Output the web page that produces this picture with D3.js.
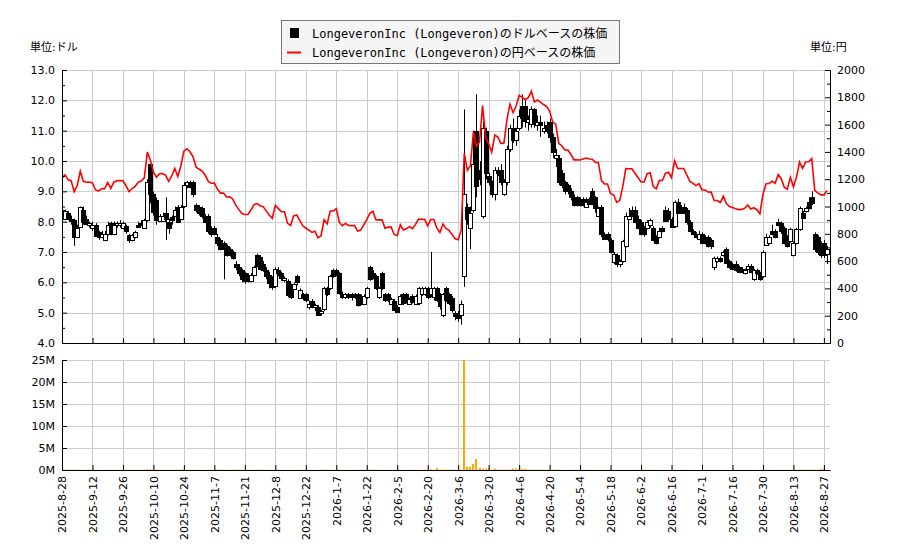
<!doctype html>
<meta charset="utf-8">
<title>Longeveron</title>
<script src="https://cdn.jsdelivr.net/npm/d3@7/dist/d3.min.js"></script>
<style>
body { margin: 0; background: #fff; }
svg text { font-family: "DejaVu Sans", "Noto Sans CJK JP", sans-serif; font-size: 11px; fill: #000; }
.legend text { font-family: "DejaVu Sans Mono", "Noto Sans CJK JP", monospace; font-size: 12px; }
.grid line { stroke: #cccccc; stroke-width: 1; }
</style>
<body>
<svg id="chart" width="900" height="550"></svg>
<script>

// x axis labels, one every 10 trading days
var tickLabels = ['2025-8-28','2025-9-12','2025-9-26','2025-10-10','2025-10-24','2025-11-7',
  '2025-11-21','2025-12-8','2025-12-22','2026-1-7','2026-1-22','2026-2-5','2026-2-20',
  '2026-3-6','2026-3-20','2026-4-6','2026-4-20','2026-5-4','2026-5-18','2026-6-2',
  '2026-6-16','2026-7-1','2026-7-16','2026-7-30','2026-8-13','2026-8-27'];

// daily prices in USD
var opens = [
  8.4,8.1,8.3,8.1,8.05,7.5,7.85,8.4,8.1,7.9,
  7.8,7.9,7.65,7.5,7.4,7.6,7.95,7.6,7.9,7.9,
  7.8,7.85,7.55,7.4,7.5,7.9,7.95,7.8,8.05,9.9,
  8.9,8.7,8.05,8.05,8.3,8.0,8.15,8.2,8.5,8.1,
  8.5,9.2,9.3,9.3,8.55,8.5,8.45,8.2,8.2,7.8,
  7.8,7.5,7.4,7.3,7.2,7.1,7.0,6.6,6.5,6.4,
  6.3,6.2,6.05,6.25,6.9,6.85,6.6,6.4,6.25,6.1,
  5.9,6.4,6.3,6.1,6.05,5.9,5.8,6.2,5.5,5.6,
  5.6,5.2,5.4,5.2,5.2,5.0,5.1,5.8,5.8,6.4,
  6.4,6.3,5.6,5.5,5.6,5.6,5.6,5.6,5.55,5.3,
  5.5,6.5,6.3,6.2,5.5,6.3,5.6,5.6,5.3,5.4,
  5.2,5.3,5.6,5.6,5.3,5.55,5.3,5.3,5.6,5.6,
  5.8,5.6,5.5,5.8,5.6,4.9,5.8,5.6,5.5,5.0,
  5.0,4.95,6.2,8.5,7.8,8.4,11.0,9.7,8.2,11.0,
  9.5,9.3,8.9,9.7,9.7,8.9,9.3,10.4,11.1,10.7,
  11.1,11.8,11.8,11.3,11.2,11.7,11.2,11.3,11.0,11.2,
  11.3,10.8,10.1,10.1,9.6,9.3,9.2,9.0,8.8,8.8,
  8.75,8.75,8.5,8.75,9.0,8.8,8.2,8.5,7.6,7.6,
  7.4,6.7,6.9,6.6,6.7,7.2,8.1,8.4,8.4,8.1,
  8.0,7.8,7.8,7.9,7.8,7.5,7.5,7.8,8.4,8.35,
  8.1,7.85,8.65,8.5,8.5,8.4,8.0,7.7,7.6,7.45,
  7.6,7.5,7.5,7.4,6.5,6.7,6.8,6.9,7.1,6.7,
  6.6,6.6,6.5,6.45,6.3,6.45,6.55,6.1,6.4,6.3,
  6.2,7.25,7.3,7.7,7.7,8.0,7.95,7.8,7.5,7.35,
  6.9,7.3,7.75,8.3,8.35,8.65,8.8,7.6,7.5,7.3,
  7.3,6.95];
var highs = [
  8.7,8.4,8.35,8.2,8.1,7.9,8.5,8.5,8.2,8.0,
  8.0,7.95,7.7,7.7,7.7,8.0,8.0,8.0,8.0,8.05,
  8.0,7.9,7.6,7.6,7.7,8.0,8.05,8.1,9.4,9.9,
  9.0,8.8,8.25,8.3,8.8,8.1,8.2,8.5,8.55,8.55,
  9.3,9.35,9.35,9.35,8.6,8.55,8.5,8.25,8.25,7.85,
  7.85,7.6,7.45,7.35,7.25,7.15,7.05,6.7,6.6,6.45,
  6.35,6.3,6.3,6.55,6.95,6.9,6.7,6.5,6.35,6.2,
  6.5,6.5,6.35,6.2,6.1,5.95,6.0,6.25,5.8,5.65,
  5.65,5.4,5.45,5.3,5.25,5.1,5.85,5.85,6.25,6.45,
  6.45,6.35,5.7,5.65,5.65,5.65,5.65,5.65,5.6,5.6,
  5.85,6.55,6.4,6.25,5.85,6.35,5.65,5.65,5.5,5.45,
  5.25,5.6,5.65,5.65,5.5,5.6,5.6,5.85,5.85,5.85,
  5.85,7.0,5.85,5.85,5.65,5.65,5.85,5.65,5.55,5.05,
  5.05,5.4,11.7,8.6,8.5,11.0,12.2,10.0,11.3,11.1,
  9.6,9.35,9.8,9.8,9.9,9.4,10.5,11.2,11.4,11.1,
  11.7,12.2,12.0,11.5,11.8,11.75,11.5,11.5,11.3,11.3,
  11.4,10.9,10.4,10.2,9.7,9.35,9.25,9.1,8.9,8.85,
  8.8,8.8,8.8,8.8,9.1,8.85,8.5,8.55,7.65,7.65,
  7.45,7.0,6.95,6.75,7.4,8.3,8.45,8.5,8.5,8.2,
  8.05,7.85,8.05,8.1,7.85,7.55,7.8,7.85,8.5,8.45,
  8.15,8.7,8.75,8.55,8.6,8.45,8.05,7.75,7.65,7.7,
  7.65,7.55,7.55,7.45,6.85,6.85,6.85,7.05,7.15,6.75,
  6.65,6.7,6.55,6.5,6.45,6.6,6.6,6.45,6.45,6.35,
  7.05,7.6,7.55,7.9,7.75,8.1,8.0,7.85,7.55,7.8,
  7.35,7.8,8.5,8.35,8.5,8.8,9.0,7.65,7.55,7.35,
  7.4,7.2];
var lows = [
  8.1,8.05,8.05,7.9,7.2,7.45,7.8,7.9,7.9,7.8,
  7.7,7.5,7.4,7.45,7.35,7.55,7.55,7.55,7.8,7.8,
  7.75,7.6,7.3,7.35,7.45,7.8,7.85,7.8,8.0,8.6,
  8.2,7.9,8.0,8.0,7.4,7.6,7.9,8.15,7.95,8.05,
  8.45,9.1,9.1,8.8,8.3,8.2,8.1,7.95,7.6,7.5,
  7.55,7.2,7.05,6.1,6.85,6.85,6.75,6.4,6.2,6.0,
  5.95,6.0,6.0,6.2,6.5,6.4,6.35,6.1,5.8,5.75,
  5.8,6.2,6.05,6.0,5.5,5.45,5.75,5.9,5.45,5.4,
  5.35,5.1,5.15,5.05,4.9,4.9,5.05,5.55,5.75,6.15,
  6.2,5.6,5.45,5.45,5.45,5.4,5.45,5.2,5.25,5.25,
  5.45,6.05,6.1,5.75,5.45,5.75,5.35,5.35,5.25,5.05,
  5.0,5.25,5.25,5.3,5.25,5.3,5.25,5.25,5.55,5.55,
  5.45,5.5,5.4,5.35,5.1,4.85,5.35,5.25,5.0,4.75,
  4.7,4.6,5.85,7.9,7.1,8.3,8.8,9.2,8.1,9.4,
  9.2,8.8,8.7,9.5,9.2,8.85,9.2,10.3,10.6,10.5,
  11.0,11.1,11.1,11.0,11.1,11.1,11.0,10.8,10.9,10.9,
  10.6,10.1,9.8,9.2,9.1,8.9,8.9,8.7,8.5,8.5,
  8.5,8.5,8.45,8.55,8.55,8.3,8.15,7.5,7.4,7.35,
  6.95,6.6,6.5,6.5,6.65,7.15,8.05,8.15,7.95,7.75,
  7.55,7.5,7.75,7.8,7.35,7.25,7.45,7.65,8.0,8.0,
  7.8,7.8,8.25,8.25,8.25,7.9,7.65,7.55,7.45,7.4,
  7.25,7.25,7.15,7.1,6.4,6.65,6.65,6.85,6.6,6.45,
  6.4,6.35,6.3,6.3,6.25,6.4,6.3,6.05,6.25,6.05,
  6.15,7.2,7.25,7.55,7.45,7.85,7.6,7.25,7.15,7.3,
  6.85,7.25,7.7,8.1,8.3,8.4,8.55,7.0,6.9,6.8,
  6.8,6.6];
var closes = [
  8.2,8.35,8.1,8.05,7.5,7.8,8.5,8.0,7.95,7.95,
  7.9,7.55,7.5,7.6,7.6,7.9,7.6,7.9,7.97,7.97,
  7.95,7.7,7.4,7.55,7.65,7.85,7.9,8.05,9.3,8.9,
  8.3,8.05,8.2,8.2,8.1,7.8,8.05,8.4,8.0,8.5,
  9.2,9.3,9.15,8.9,8.4,8.3,8.2,8.0,7.7,7.6,
  7.6,7.3,7.1,7.1,6.9,6.9,6.8,6.5,6.3,6.1,
  6.05,6.05,6.25,6.5,6.55,6.45,6.4,6.2,6.0,5.85,
  6.45,6.3,6.15,6.15,5.6,5.5,5.95,6.0,5.75,5.5,
  5.4,5.3,5.2,5.25,4.95,5.05,5.8,5.6,6.2,6.2,
  6.3,5.65,5.5,5.6,5.5,5.5,5.5,5.25,5.3,5.55,
  5.8,6.1,6.2,5.8,5.8,5.8,5.4,5.45,5.45,5.1,
  5.05,5.55,5.3,5.35,5.45,5.35,5.55,5.8,5.8,5.8,
  5.5,5.8,5.8,5.4,5.2,5.6,5.4,5.3,5.1,4.9,
  4.85,5.3,8.9,8.1,8.3,9.9,9.2,9.4,11.1,9.6,
  9.3,8.9,9.7,9.6,9.3,9.3,10.4,11.1,10.7,11.0,
  11.5,11.4,11.3,11.4,11.7,11.2,11.3,11.2,11.1,11.0,
  10.8,10.3,10.2,9.3,9.2,9.0,9.0,8.8,8.55,8.55,
  8.55,8.6,8.65,8.6,8.6,8.45,8.45,7.6,7.45,7.45,
  7.0,6.95,6.6,6.7,7.35,8.2,8.2,8.2,8.0,7.8,
  7.6,7.6,8.0,8.05,7.4,7.3,7.7,7.7,8.05,8.1,
  7.85,8.65,8.3,8.3,8.3,8.0,7.7,7.6,7.5,7.6,
  7.3,7.3,7.2,7.2,6.8,6.8,6.7,7.0,6.65,6.5,
  6.45,6.4,6.35,6.35,6.4,6.55,6.35,6.4,6.3,6.1,
  7.0,7.5,7.5,7.6,7.5,7.9,7.7,7.3,7.2,7.75,
  7.3,7.75,8.45,8.15,8.45,8.45,8.6,7.1,7.0,6.9,
  6.9,7.1];

// USD/JPY rate used for the yen line
var usdjpy = [
  147.5,147.5,147.6,147.7,147.8,147.9,148.0,148.1,148.2,148.3,
  148.4,148.5,148.6,148.7,148.8,148.9,149.0,149.1,149.2,149.3,
  149.5,149.6,149.8,149.9,150.0,150.1,150.2,150.3,150.4,150.5,
  150.8,151.0,151.2,151.4,151.6,151.8,152.0,152.2,152.4,152.6,
  152.8,153.0,153.1,153.2,153.3,153.4,153.5,153.6,153.8,154.0,
  154.2,154.4,154.6,154.8,155.0,155.1,155.2,155.3,155.4,155.5,
  155.6,155.7,155.8,155.9,156.0,156.0,156.1,156.1,156.2,156.2,
  156.3,156.3,156.4,156.4,156.5,156.5,156.4,156.3,156.2,156.1,
  156.0,155.9,155.8,155.8,155.7,155.7,155.8,155.9,156.0,156.1,
  156.2,156.3,156.4,156.5,156.5,156.4,156.3,156.2,156.1,156.0,
  155.9,155.8,155.7,155.6,155.5,155.5,155.6,155.7,155.8,155.9,
  156.0,156.1,156.2,156.3,156.4,156.5,156.5,156.4,156.3,156.2,
  156.1,156.0,155.9,155.8,155.7,155.6,155.5,155.6,155.7,155.8,
  155.9,156.0,156.1,156.2,156.3,156.4,156.5,156.6,156.7,156.8,
  156.9,157.0,157.1,157.2,157.3,157.4,157.5,157.6,157.7,157.8,
  157.8,157.8,157.7,157.7,157.6,157.6,157.5,157.5,157.4,157.4,
  157.3,157.3,157.2,157.2,157.1,157.1,157.0,157.0,156.9,156.9,
  156.8,156.8,156.7,156.7,156.6,156.6,156.5,156.5,156.4,156.4,
  156.3,156.2,156.1,156.0,155.9,155.8,155.7,155.6,155.5,155.4,
  155.3,155.2,155.1,155.0,154.9,154.8,154.7,154.6,154.5,154.4,
  154.3,154.2,154.1,154.0,154.0,153.9,153.9,153.8,153.8,153.7,
  153.7,153.6,153.6,153.5,153.5,153.5,153.6,153.6,153.7,153.7,
  153.8,153.8,153.9,154.0,154.2,154.4,154.6,154.8,155.0,155.2,
  155.4,155.6,155.8,156.0,156.1,156.2,156.3,156.4,156.5,156.6,
  156.7,156.8,156.9,157.0,157.0,157.1,157.1,157.2,157.2,157.3,
  157.3,157.4];

// daily volume, millions of shares
var volumes = [
  0.08,0.06,0.05,0.07,0.09,0.05,0.1,0.06,0.05,0.04,
  0.05,0.06,0.04,0.05,0.04,0.06,0.05,0.04,0.05,0.04,
  0.05,0.04,0.06,0.05,0.04,0.05,0.06,0.08,0.2,0.15,
  0.08,0.06,0.05,0.05,0.07,0.05,0.04,0.06,0.05,0.07,
  0.1,0.08,0.06,0.06,0.05,0.05,0.04,0.05,0.06,0.05,
  0.05,0.06,0.07,0.1,0.06,0.05,0.05,0.06,0.07,0.06,
  0.06,0.05,0.05,0.06,0.07,0.05,0.05,0.05,0.06,0.05,
  0.07,0.05,0.04,0.04,0.06,0.05,0.05,0.05,0.04,0.05,
  0.05,0.05,0.04,0.04,0.06,0.05,0.08,0.05,0.06,0.05,
  0.06,0.07,0.05,0.04,0.04,0.04,0.04,0.05,0.04,0.05,
  0.06,0.1,0.06,0.05,0.05,0.06,0.05,0.04,0.04,0.05,
  0.05,0.05,0.04,0.04,0.04,0.04,0.05,0.06,0.05,0.05,
  0.05,0.2,0.06,0.45,0.07,0.08,0.06,0.05,0.06,0.07,
  0.08,0.1,27.0,0.75,0.75,1.4,2.5,0.5,0.3,0.3,
  0.3,0.1,0.3,0.1,0.12,0.1,0.1,0.12,0.3,0.3,
  0.1,0.25,0.25,0.1,0.08,0.08,0.07,0.06,0.06,0.06,
  0.08,0.07,0.06,0.06,0.05,0.05,0.05,0.05,0.04,0.04,
  0.04,0.04,0.04,0.04,0.05,0.04,0.04,0.06,0.05,0.04,
  0.05,0.04,0.04,0.04,0.05,0.06,0.04,0.04,0.04,0.04,
  0.04,0.04,0.04,0.04,0.04,0.04,0.04,0.03,0.05,0.04,
  0.04,0.05,0.04,0.03,0.03,0.04,0.04,0.03,0.03,0.03,
  0.03,0.03,0.03,0.03,0.05,0.03,0.03,0.03,0.04,0.03,
  0.03,0.03,0.03,0.03,0.03,0.03,0.03,0.03,0.03,0.03,
  0.05,0.05,0.04,0.04,0.04,0.05,0.04,0.04,0.04,0.04,
  0.04,0.04,0.15,0.05,0.05,0.06,0.06,0.08,0.06,0.25,
  0.3,0.08];

var left = 62, right = 830
  , priceTop = 70, priceBottom = 343
  , volTop = 360, volBottom = 470
  , tickIdx = tickLabels.map(function(d, i) { return i * 10; });

var svg = d3.select('#chart');

var x = d3.scaleLinear().domain([0, 252]).range([left, right]);
var yUsd = d3.scaleLinear().domain([4, 13]).range([priceBottom, priceTop]);
var yJpy = d3.scaleLinear().domain([0, 2000]).range([priceBottom, priceTop]);
var yVol = d3.scaleLinear().domain([0, 25]).range([volBottom, volTop]);

function px(v) { return Math.round(v) + 0.5; }

/// grid lines
function vGrid(y0, y1) {
  svg.append('g').attr('class', 'grid')
    .selectAll('line').data(tickIdx).enter().append('line')
    .attr('x1', function(d) { return px(x(d)); })
    .attr('x2', function(d) { return px(x(d)); })
    .attr('y1', y0).attr('y2', y1);
}
function hGrid(vals, scale) {
  svg.append('g').attr('class', 'grid')
    .selectAll('line').data(vals).enter().append('line')
    .attr('x1', left).attr('x2', right)
    .attr('y1', function(d) { return px(scale(d)); })
    .attr('y2', function(d) { return px(scale(d)); });
}
vGrid(priceTop, priceBottom);
vGrid(volTop, volBottom);
hGrid(d3.range(4, 13.01, 1), yUsd);
hGrid(d3.range(0, 25.01, 5), yVol);

/// clip for both panels
var defs = svg.append('defs');
defs.append('clipPath').attr('id', 'clipPrice').append('rect')
  .attr('x', left).attr('y', priceTop).attr('width', right - left + 2).attr('height', priceBottom - priceTop);
defs.append('clipPath').attr('id', 'clipVol').append('rect')
  .attr('x', left).attr('y', volTop).attr('width', right - left).attr('height', volBottom - volTop);

/// volume bars
svg.append('g').attr('clip-path', 'url(#clipVol)')
  .selectAll('rect').data(volumes).enter().append('rect')
  .attr('x', function(d, i) { return Math.round(x(i)) - 1; })
  .attr('width', 2)
  .attr('y', function(d) { return yVol(d); })
  .attr('height', function(d) { return volBottom - yVol(d); })
  .style('fill', '#ffa500');

/// candles
var candles = svg.append('g').attr('clip-path', 'url(#clipPrice)')
  .selectAll('g').data(closes).enter().append('g');

candles.append('line')
  .attr('x1', function(d, i) { return px(x(i)); })
  .attr('x2', function(d, i) { return px(x(i)); })
  .attr('y1', function(d, i) { return yUsd(highs[i]); })
  .attr('y2', function(d, i) { return yUsd(lows[i]); })
  .style('stroke', '#000').style('stroke-width', 1);

candles.append('rect')
  .attr('x', function(d, i) { return Math.round(x(i)) - 1.5; })
  .attr('width', 4)
  .attr('y', function(d, i) { return Math.round(yUsd(Math.max(opens[i], d))) + 0.5; })
  .attr('height', function(d, i) { return Math.max(1, Math.round(Math.abs(yUsd(opens[i]) - yUsd(d)))); })
  .style('fill', function(d, i) { return d >= opens[i] ? '#fff' : '#000'; })
  .style('stroke', '#000').style('stroke-width', 1);

/// yen line
var yenLine = d3.line()
  .x(function(d, i) { return x(i); })
  .y(function(d, i) { return yJpy(d * usdjpy[i]); });

svg.append('path').datum(closes)
  .attr('d', yenLine)
  .style('fill', 'none')
  .style('stroke', '#ff0000')
  .style('stroke-width', 1.6);

/// axes
function styleAxis(g) {
  g.select('.domain').style('stroke', '#000');
  g.selectAll('.tick line').style('stroke', '#000');
  g.selectAll('text').style('font-family', null).style('font-size', null).attr('fill', '#000');
}

svg.append('g').attr('transform', 'translate(' + left + ',0)')
  .call(d3.axisLeft(yUsd).tickValues(d3.range(4, 13.01, 1)).tickFormat(d3.format('.1f'))
    .tickSizeInner(-5).tickSizeOuter(0).tickPadding(7))
  .call(styleAxis);
svg.append('g').attr('transform', 'translate(' + left + ',0)')
  .call(d3.axisLeft(yUsd).tickValues(d3.range(4.5, 13, 1)).tickFormat('').tickSizeInner(-3).tickSizeOuter(0))
  .call(styleAxis);

svg.append('g').attr('transform', 'translate(' + right + ',0)')
  .call(d3.axisRight(yJpy).tickValues(d3.range(0, 2001, 200)).tickFormat(d3.format('d'))
    .tickSizeInner(-5).tickSizeOuter(0).tickPadding(7))
  .call(styleAxis);
svg.append('g').attr('transform', 'translate(' + right + ',0)')
  .call(d3.axisRight(yJpy).tickValues(d3.range(100, 2000, 200)).tickFormat('').tickSizeInner(-3).tickSizeOuter(0))
  .call(styleAxis);

svg.append('g').attr('transform', 'translate(0,' + priceBottom + ')')
  .call(d3.axisBottom(x).tickValues(tickIdx).tickFormat('').tickSizeInner(-5).tickSizeOuter(0))
  .call(styleAxis);

svg.append('g').attr('transform', 'translate(' + left + ',0)')
  .call(d3.axisLeft(yVol).tickValues(d3.range(0, 25.01, 5)).tickFormat(function(d) { return d + 'M'; })
    .tickSizeInner(-5).tickSizeOuter(0).tickPadding(7))
  .call(styleAxis);

svg.append('g').attr('transform', 'translate(0,' + volBottom + ')')
  .call(d3.axisBottom(x).tickValues(tickIdx).tickFormat(function(d, i) { return tickLabels[i]; })
    .tickSizeInner(-5).tickSizeOuter(0))
  .call(styleAxis)
  .selectAll('text')
    .attr('transform', 'rotate(-90)')
    .attr('x', -6).attr('y', 0).attr('dy', '0.35em')
    .style('text-anchor', 'end');

/// unit labels
svg.append('text').attr('x', 30).attr('y', 51).text('単位:ドル');
svg.append('text').attr('x', 810).attr('y', 51).text('単位:円');

/// legend
var legend = svg.append('g').attr('class', 'legend');
legend.append('rect')
  .attr('x', 281.5).attr('y', 20.5).attr('width', 338).attr('height', 43)
  .style('fill', '#f5f5f5').style('stroke', '#777');
legend.append('rect')
  .attr('x', 290).attr('y', 28).attr('width', 9).attr('height', 10)
  .style('fill', '#000');
legend.append('line')
  .attr('x1', 287).attr('x2', 301).attr('y1', 52.5).attr('y2', 52.5)
  .style('stroke', '#ff0000').style('stroke-width', 2);
legend.append('text').attr('x', 312).attr('y', 37.5)
  .text('LongeveronInc (Longeveron)のドルベースの株価');
legend.append('text').attr('x', 312).attr('y', 56.5)
  .text('LongeveronInc (Longeveron)の円ベースの株価');

</script>
</body>
